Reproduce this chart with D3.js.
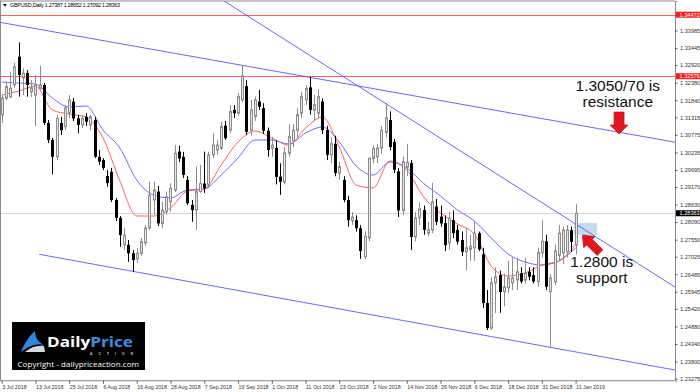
<!DOCTYPE html>
<html>
<head>
<meta charset="utf-8">
<script src="https://cdn.jsdelivr.net/npm/d3@7"></script>
<style>
  body { margin: 0; background: #fff; }
  svg { display: block; font-family: "Liberation Sans", Arial, sans-serif; }
</style>
</head>
<body>
<svg id="chart" width="700" height="392"></svg>
<script>
// ---- data ----
const symbolHeader = "GBPUSD,Daily  1.27387 1.28652 1.27092 1.28363";

const open = [
  1.3139,1.3190,1.3195,1.3231,1.3318,1.3252,1.3268,1.3210,1.3200,1.3221,
  1.3231,1.3114,1.3062,1.3010,1.3114,1.3103,1.3145,1.3180,1.3128,1.3108,
  1.3133,1.3108,1.3123,1.3010,1.3000,1.2951,1.2964,1.2877,1.2822,1.2739,
  1.2739,1.2713,1.2696,1.2713,1.2745,1.2791,1.2877,1.2903,1.2805,1.2841,
  1.2872,1.2908,1.3026,1.3010,1.2939,1.2862,1.2846,1.2903,1.2928,1.2923,
  1.3016,1.3031,1.3036,1.3106,1.3092,1.3154,1.3144,1.3185,1.3228,1.3092,
  1.3134,1.3180,1.3160,1.3090,1.3037,1.3037,1.2949,1.2932,1.3021,1.3060,
  1.3092,1.3144,1.3185,1.3224,1.3154,1.3144,1.3180,1.3092,1.3016,1.3050,
  1.2960,1.2939,1.2877,1.2813,1.2815,1.2790,1.2703,1.2760,1.3005,1.3010,
  1.3037,1.3085,1.3123,1.3056,1.2965,1.2845,1.2978,1.2991,1.2763,1.2822,
  1.2846,1.2775,1.2785,1.2857,1.2826,1.2806,1.2745,1.2815,1.2785,1.2754,
  1.2718,1.2725,1.2730,1.2775,1.2710,1.2560,1.2483,1.2622,1.2646,1.2595,
  1.2607,1.2622,1.2631,1.2652,1.2631,1.2656,1.2646,1.2626,1.2715,1.2750,
  1.2595,1.2625,1.2707,1.2714,1.2718,1.2784,1.27387
];
const high = [
  1.3200,1.3241,1.3272,1.3299,1.3362,1.3282,1.3277,1.3246,1.3262,1.3290,
  1.3237,1.3123,1.3068,1.3139,1.3133,1.3169,1.3200,1.3191,1.3139,1.3139,
  1.3145,1.3139,1.3133,1.3031,1.3006,1.2969,1.2976,1.2883,1.2828,1.2791,
  1.2754,1.2723,1.2729,1.2760,1.2800,1.2933,1.2933,1.2920,1.2872,1.2903,
  1.2929,1.3046,1.3044,1.3025,1.2951,1.2877,1.2980,1.2985,1.3026,1.3026,
  1.3082,1.3062,1.3118,1.3120,1.3169,1.3169,1.3206,1.3292,1.3246,1.3185,
  1.3195,1.3216,1.3175,1.3100,1.3072,1.3060,1.2990,1.3040,1.3110,1.3110,
  1.3160,1.3210,1.3230,1.3255,1.3200,1.3218,1.3190,1.3105,1.3070,1.3075,
  1.2995,1.2950,1.2890,1.2840,1.2830,1.2800,1.2780,1.3010,1.3045,1.3050,
  1.3105,1.3175,1.3150,1.3065,1.2975,1.3010,1.3050,1.3000,1.2840,1.2870,
  1.2860,1.2810,1.2930,1.2880,1.2860,1.2830,1.2840,1.2845,1.2800,1.2780,
  1.2790,1.2770,1.2810,1.2780,1.2730,1.2600,1.2640,1.2670,1.2660,1.2650,
  1.2690,1.2700,1.2700,1.2670,1.2700,1.2670,1.2670,1.2730,1.2815,1.2770,
  1.2650,1.2740,1.2800,1.2795,1.2800,1.2795,1.28652
];
const low = [
  1.3114,1.3185,1.3191,1.3222,1.3195,1.3200,1.3195,1.3195,1.3103,1.3216,
  1.3108,1.3052,1.2956,1.3000,1.3077,1.3092,1.3129,1.3120,1.3082,1.3099,
  1.3105,1.3092,1.3006,1.2985,1.2969,1.2918,1.2871,1.2812,1.2733,1.2723,
  1.2687,1.2656,1.2683,1.2705,1.2736,1.2785,1.2831,1.2797,1.2790,1.2831,
  1.2841,1.2902,1.2994,1.2945,1.2862,1.2810,1.2785,1.2899,1.2899,1.2914,
  1.3006,1.3016,1.3031,1.3062,1.3083,1.3129,1.3136,1.3179,1.3077,1.3075,
  1.3120,1.3154,1.3080,1.3010,1.3010,1.2925,1.2893,1.2925,1.3010,1.3040,
  1.3070,1.3130,1.3170,1.3140,1.3120,1.3130,1.3080,1.3000,1.2990,1.2950,
  1.2940,1.2870,1.2795,1.2800,1.2780,1.2696,1.2695,1.2750,1.2990,1.2990,
  1.3020,1.3070,1.3030,1.2960,1.2825,1.2830,1.2950,1.2723,1.2750,1.2800,
  1.2770,1.2765,1.2775,1.2800,1.2795,1.2720,1.2725,1.2760,1.2740,1.2705,
  1.2660,1.2690,1.2690,1.2720,1.2545,1.2477,1.2477,1.2529,1.2530,1.2550,
  1.2590,1.2600,1.2600,1.2620,1.2620,1.2630,1.2620,1.2610,1.2700,1.2600,
  1.2425,1.2615,1.2690,1.2680,1.2700,1.2718,1.27092
];
const close = [
  1.3191,1.3226,1.3221,1.3287,1.3262,1.3267,1.3231,1.3222,1.3231,1.3231,
  1.3114,1.3062,1.3010,1.3128,1.3092,1.3160,1.3185,1.3128,1.3108,1.3128,
  1.3118,1.3133,1.3010,1.2995,1.2976,1.2929,1.2877,1.2822,1.2769,1.2769,
  1.2713,1.2692,1.2713,1.2749,1.2791,1.2892,1.2908,1.2805,1.2846,1.2887,
  1.2913,1.3021,1.3005,1.2954,1.2867,1.2846,1.2903,1.2928,1.2913,1.3016,
  1.3046,1.3046,1.3103,1.3067,1.3149,1.3144,1.3195,1.3259,1.3086,1.3154,
  1.3185,1.3164,1.3090,1.3031,1.3046,1.2948,1.2933,1.3022,1.3072,1.3092,
  1.3140,1.3195,1.3220,1.3154,1.3170,1.3195,1.3092,1.3016,1.3050,1.2960,
  1.2980,1.2877,1.2815,1.2824,1.2790,1.2720,1.2765,1.3005,1.3036,1.3037,
  1.3092,1.3130,1.3040,1.2970,1.2845,1.2995,1.2993,1.2763,1.2822,1.2850,
  1.2785,1.2785,1.2872,1.2810,1.2805,1.2738,1.2821,1.2775,1.2749,1.2718,
  1.2730,1.2735,1.2775,1.2725,1.2560,1.2483,1.2622,1.2640,1.2594,1.2610,
  1.2637,1.2637,1.2656,1.2626,1.2652,1.2641,1.2626,1.2715,1.2750,1.2610,
  1.2637,1.2720,1.2775,1.2785,1.2785,1.2748,1.28363
];

// moving averages, read every 4th bar
const maBars = [0,4,8,12,16,20,24,28,32,36,40,44,48,52,56,60,64,68,72,76,80,84,88,92,96,100,104,108,112,116,120,124,128,132,136];
const maSlow = [1.32401,1.32370,1.32339,1.31909,1.31632,1.31663,1.30924,1.30370,1.29386,1.28924,
  1.28832,1.29078,1.29109,1.29539,1.30063,1.30617,1.30617,1.30493,1.30832,1.31016,
  1.30555,1.29816,1.29539,1.29939,1.29755,1.29278,1.28893,1.28463,1.28124,1.27601,
  1.27109,1.26862,1.26770,1.26893,1.27293];
const maFast = [1.32000,1.32123,1.32276,1.31539,1.31416,1.31324,1.30678,1.29355,1.28278,1.28278,
  1.28524,1.29047,1.29109,1.29847,1.30555,1.30893,1.30678,1.30462,1.30986,1.31324,
  1.30401,1.29232,1.29140,1.29970,1.29693,1.28863,1.28370,1.28032,1.27724,1.26739,
  1.26432,1.26524,1.26770,1.26893,1.27386];

// axis ticks
const priceTicks = [1.34472,1.33985,1.33445,1.32920,1.32380,1.31840,1.31315,1.30775,1.30235,1.29695,
  1.29170,1.28630,1.28090,1.27550,1.27025,1.26485,1.25945,1.25420,1.24880,1.24340,1.23800,1.23275];
const dateTickBars = [0,8,16,24,32,40,48,56,64,72,80,88,96,104,112,120,128,136];
const dateTickLabels = ["3 Jul 2018","13 Jul 2018","25 Jul 2018","6 Aug 2018","16 Aug 2018","28 Aug 2018",
  "7 Sep 2018","19 Sep 2018","1 Oct 2018","11 Oct 2018","23 Oct 2018","2 Nov 2018","14 Nov 2018",
  "26 Nov 2018","6 Dec 2018","18 Dec 2018","31 Dec 2018","11 Jan 2019"];

// levels and trendlines: [bar, price] pairs
const redLevels = [1.34472, 1.32579];
const lastPrice = 1.28363;
const trendLines = [
  [[-0.4, 1.34238], [159.55, 1.30549]],
  [[8.9, 1.27099], [159.55, 1.23539]],
  [[52.7, 1.34893], [159.55, 1.26093]]
];
const supportZone = { from: 135.6, to: 141.1, top: 1.28062, bottom: 1.27693 };

// ---- layout ----
const svg = d3.select("#chart");
const plotRight = 675, plotTop = 1, plotBottom = 380.7;

const x = d3.scaleLinear().domain([0, 136]).range([1.7, 575.6]);
const y = d3.scaleLinear().domain([1.23210, 1.34894]).range([plotBottom, plotTop]);

svg.append("defs").append("clipPath").attr("id", "plot-clip")
  .append("rect").attr("x", 0).attr("y", plotTop).attr("width", plotRight).attr("height", plotBottom - plotTop);

const plot = svg.append("g").attr("clip-path", "url(#plot-clip)");

// horizontal levels
plot.selectAll(".level")
  .data(redLevels)
  .join("line")
  .attr("x1", 0).attr("x2", plotRight)
  .attr("y1", d => Math.round(y(d)) + 0.5).attr("y2", d => Math.round(y(d)) + 0.5)
  .attr("stroke", "#ff5c5c").attr("stroke-width", 1);

plot.append("line")
  .attr("x1", 0).attr("x2", plotRight)
  .attr("y1", Math.round(y(lastPrice)) + 0.5).attr("y2", Math.round(y(lastPrice)) + 0.5)
  .attr("stroke", "#d4d4d4").attr("stroke-width", 1);

// support zone
plot.append("rect")
  .attr("x", x(supportZone.from)).attr("width", x(supportZone.to) - x(supportZone.from))
  .attr("y", y(supportZone.top)).attr("height", y(supportZone.bottom) - y(supportZone.top))
  .attr("fill", "#c4dcf2");

// trendlines
plot.selectAll(".trend")
  .data(trendLines)
  .join("line")
  .attr("x1", d => x(d[0][0])).attr("y1", d => y(d[0][1]))
  .attr("x2", d => x(d[1][0])).attr("y2", d => y(d[1][1]))
  .attr("stroke", "#5656ff").attr("stroke-width", 0.9);

// moving averages
const maLine = d3.line()
  .x((d, k) => x(maBars[k]))
  .y(d => y(d))
  .curve(d3.curveMonotoneX);

plot.append("path").datum(maSlow)
  .attr("d", maLine).attr("fill", "none")
  .attr("stroke", "#5a5aff").attr("stroke-width", 0.9);
plot.append("path").datum(maFast)
  .attr("d", maLine).attr("fill", "none")
  .attr("stroke", "#ff4d4d").attr("stroke-width", 0.9);

// candles
const bars = d3.range(open.length).map(i => ({
  i, o: open[i], h: high[i], l: low[i], c: close[i], up: close[i] >= open[i]
}));

const candle = plot.selectAll(".candle")
  .data(bars)
  .join("g")
  .attr("class", "candle");

candle.append("line")
  .attr("x1", d => Math.round(x(d.i)) + 0.5).attr("x2", d => Math.round(x(d.i)) + 0.5)
  .attr("y1", d => y(d.h)).attr("y2", d => y(d.l))
  .attr("stroke", d => d.up ? "#8c8c8c" : "#000").attr("stroke-width", 1);

candle.append("rect")
  .attr("x", d => d.up ? Math.round(x(d.i)) - 0.5 : Math.round(x(d.i)) - 1)
  .attr("width", d => d.up ? 2 : 3)
  .attr("y", d => y(Math.max(d.o, d.c)))
  .attr("height", d => Math.max(1, Math.abs(y(d.o) - y(d.c))))
  .attr("fill", d => d.up ? "#e6e6e6" : "#000")
  .attr("stroke", d => d.up ? "#8c8c8c" : "none")
  .attr("stroke-width", 1);

// ---- frame and axes ----
svg.append("line").attr("x1", 0.5).attr("x2", 0.5).attr("y1", plotTop).attr("y2", plotBottom)
  .attr("stroke", "#8a8a8a");
svg.append("line").attr("x1", 0).attr("x2", plotRight).attr("y1", plotTop).attr("y2", plotTop)
  .attr("stroke", "#8a8a8a");
svg.append("line").attr("x1", 0).attr("x2", plotRight).attr("y1", plotBottom).attr("y2", plotBottom)
  .attr("stroke", "#8a8a8a");

const yAxis = svg.append("g")
  .attr("transform", `translate(${plotRight},0)`)
  .call(d3.axisRight(y).tickValues(priceTicks).tickSize(2.5).tickPadding(2.5).tickFormat(d3.format(".5f")));
yAxis.select(".domain").attr("stroke", "#8a8a8a");
yAxis.selectAll(".tick line").attr("stroke", "#555");
yAxis.selectAll("text").attr("font-size", "5.6px").attr("fill", "#333")
  .attr("font-family", "Liberation Sans, Arial, sans-serif");

const xAxis = svg.append("g")
  .attr("transform", `translate(0,${plotBottom})`)
  .call(d3.axisBottom(x).tickValues(dateTickBars).tickSize(3).tickPadding(2)
    .tickFormat((d, k) => dateTickLabels[k]));
xAxis.select(".domain").remove();
xAxis.selectAll(".tick line").attr("stroke", "#555");
xAxis.selectAll("text")
  .attr("text-anchor", "start")
  .attr("font-size", "5.3px").attr("fill", "#333")
  .attr("font-family", "Liberation Sans, Arial, sans-serif");

// price tags on the axis
const tags = redLevels.map(v => ({ v, fill: "#ff1a1a" })).concat([{ v: lastPrice, fill: "#000" }]);
const tag = svg.selectAll(".tag").data(tags).join("g").attr("class", "tag")
  .attr("transform", d => `translate(${plotRight + 1},${y(d.v)})`);
tag.append("rect").attr("x", 0).attr("y", -3).attr("width", 24).attr("height", 6).attr("fill", d => d.fill);
tag.append("text").attr("x", 3.5).attr("y", 0).attr("dy", "0.35em")
  .attr("font-size", "5.6px").attr("fill", "#fff").text(d => d3.format(".5f")(d.v));

// header
svg.append("path").attr("d", "M3,4 L7,4 L5,6.8 Z").attr("fill", "#000");
svg.append("text").attr("x", 10).attr("y", 7.2)
  .attr("font-size", "5.4px").attr("fill", "#000")
  .attr("textLength", 110).text(symbolHeader);

// ---- annotations ----
const note = svg.append("g").attr("font-family", "Liberation Sans, Arial, sans-serif")
  .attr("font-size", "15.5px").attr("fill", "#111").attr("text-anchor", "middle");
note.append("text").attr("x", x(146)).attr("y", y(1.32133)).text("1.3050/70 is");
note.append("text").attr("x", x(146)).attr("y", y(1.31641)).text("resistance");
note.append("text").attr("x", x(142.2)).attr("y", y(1.26724)).text("1.2800 is");
note.append("text").attr("x", x(142.2)).attr("y", y(1.26226)).text("support");

// block arrows (tip at origin, pointing along +x)
const arrowPath = (len, headLen, headHalf, shaftHalf) =>
  `M0,0 L${-headLen},${-headHalf} L${-headLen},${-shaftHalf} L${-len},${-shaftHalf} ` +
  `L${-len},${shaftHalf} L${-headLen},${shaftHalf} L${-headLen},${headHalf} Z`;

svg.append("path")
  .attr("d", arrowPath(22, 9, 9, 5))
  .attr("transform", `translate(${x(146.3)},${y(1.30801)}) rotate(90)`)
  .attr("fill", "#e8141b").attr("stroke", "#a50c10").attr("stroke-width", 0.6);

svg.append("path")
  .attr("d", arrowPath(25, 10, 8, 4))
  .attr("transform", `translate(${x(137.6)},${y(1.27693)}) rotate(225)`)
  .attr("fill", "#e8141b").attr("stroke", "#a50c10").attr("stroke-width", 0.6);

// ---- logo ----
const logo = svg.append("g");
logo.append("rect").attr("x", 12).attr("y", 322).attr("width", 133).attr("height", 48).attr("fill", "#000");
logo.append("path")
  .attr("d", "M21,352 C24,344 29,336 35,331 C35,337 38,342 44,345 C38,343 31,345 24,350 Z")
  .attr("fill", "#2f86e0");
logo.append("path")
  .attr("d", "M25,352 C31,347 37,345 44,346 L45,352 Z")
  .attr("fill", "#d8d8d8");
const brand = logo.append("text").attr("x", 47).attr("y", 346.5)
  .attr("font-family", "Open Sans, Liberation Sans, sans-serif")
  .attr("font-weight", "bold").attr("font-size", "14.5px")
  .attr("textLength", 86).attr("lengthAdjust", "spacingAndGlyphs");
brand.append("tspan").attr("fill", "#fff").text("Daily");
brand.append("tspan").attr("fill", "#3d8fe6").text("Price");
logo.append("text").attr("x", 90).attr("y", 354.5)
  .attr("font-size", "3.4px").attr("fill", "#cfcfcf").attr("font-weight", "bold")
  .attr("textLength", 43).text("ACTION");
logo.append("text").attr("x", 17.5).attr("y", 366.5)
  .attr("font-family", "Open Sans, Liberation Sans, sans-serif")
  .attr("font-size", "8px").attr("fill", "#fff")
  .attr("textLength", 121.5).text("Copyright - dailypriceaction.com");
</script>
</body>
</html>
